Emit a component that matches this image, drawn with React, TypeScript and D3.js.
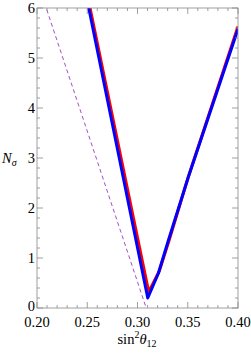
import React from "react";
import * as d3 from "d3";

const W = 251, H = 354;
const M = { left: 37, right: 13, top: 8, bottom: 46 };

const xTicks = [0.2, 0.25, 0.3, 0.35, 0.4];
const xTickLabels = ["0.20", "0.25", "0.30", "0.35", "0.40"];
const yTicks = [0, 1, 2, 3, 4, 5, 6];
const yTickLabels = ["0", "1", "2", "3", "4", "5", "6"];

const redX = [0.2505, 0.2528, 0.3112, 0.3217, 0.3317, 0.3505, 0.4];
const redY = [6.25, 6.0, 0.32, 0.74, 1.37, 2.62, 5.63];
const blueX = [0.2495, 0.2515, 0.3102, 0.3207, 0.3307, 0.3506, 0.4];
const blueY = [6.2, 6.0, 0.2, 0.69, 1.35, 2.62, 5.58];
const dashX = [0.2075, 0.3095];
const dashY = [6.1, -0.05];

export default function App() {
  const x = d3.scaleLinear().domain([0.2, 0.4]).range([M.left, W - M.right]);
  const y = d3.scaleLinear().domain([0, 6]).range([H - M.bottom, M.top]);
  const line = d3.line<[number, number]>().x(d => x(d[0])).y(d => y(d[1]));
  const pts = (xs: number[], ys: number[]) => xs.map((v, i) => [v, ys[i]] as [number, number]);
  const x0 = M.left, x1 = W - M.right, y0 = H - M.bottom, y1 = M.top;
  const xMinor = d3.range(0.2, 0.4001, 0.01);
  const yMinor = d3.range(0, 6.001, 0.2);
  const isMajX = (v: number) => Math.abs(v * 20 - Math.round(v * 20)) < 1e-6;
  const isMajY = (v: number) => Math.abs(v - Math.round(v)) < 1e-6;
  const font = "Liberation Serif, Times New Roman, serif";
  return (
    <svg width={W} height={H} style={{ position: "absolute", left: 0, top: 0 }}>
      <defs>
        <clipPath id="plot">
          <rect x={x0} y={y1} width={x1 - x0} height={y0 - y1} />
        </clipPath>
      </defs>
      <rect width={W} height={H} fill="white" />
      <g clipPath="url(#plot)">
        <path d={line(pts(dashX, dashY)) || ""} fill="none" stroke="#a24fc8" strokeWidth={1} strokeDasharray="4,3" />
        <path d={line(pts(redX, redY)) || ""} fill="none" stroke="#ff0000" strokeWidth={3} strokeLinejoin="round" />
        <path d={line(pts(blueX, blueY)) || ""} fill="none" stroke="#0000ff" strokeWidth={3} strokeLinejoin="round" />
      </g>
      <g stroke="#888" strokeWidth={0.8}>
        {xMinor.map((v, i) => {
          const L = isMajX(v) ? 6 : 3;
          return (
            <g key={"xt" + i}>
              <line x1={x(v)} x2={x(v)} y1={y0} y2={y0 - L} />
              <line x1={x(v)} x2={x(v)} y1={y1} y2={y1 + L} />
            </g>
          );
        })}
        {yMinor.map((v, i) => {
          const L = isMajY(v) ? 6 : 3;
          return (
            <g key={"yt" + i}>
              <line x1={x0} x2={x0 + L} y1={y(v)} y2={y(v)} />
              <line x1={x1} x2={x1 - L} y1={y(v)} y2={y(v)} />
            </g>
          );
        })}
        <rect x={x0} y={y1} width={x1 - x0} height={y0 - y1} fill="none" />
      </g>
      <g style={{ fontFamily: font }} fontSize={14.5} fill="#000">
        {xTicks.map((v, i) => (
          <text key={"xl" + i} x={x(v)} y={y0 + 19} textAnchor="middle">{xTickLabels[i]}</text>
        ))}
        {yTicks.map((v, i) => (
          <text key={"yl" + i} x={x0 - 2} y={y(v) + (i === 0 ? 3 : 5)} textAnchor="end">{yTickLabels[i]}</text>
        ))}
        <text x={137} y={344} textAnchor="middle">
          sin<tspan dy={-6} fontSize={10}>2</tspan><tspan dy={6} fontStyle="italic">θ</tspan><tspan dy={3} fontSize={10}>12</tspan>
        </text>
        <text x={2} y={163}>
          <tspan fontStyle="italic">N</tspan><tspan dy={3} fontSize={10} fontStyle="italic">σ</tspan>
        </text>
      </g>
    </svg>
  );
}
